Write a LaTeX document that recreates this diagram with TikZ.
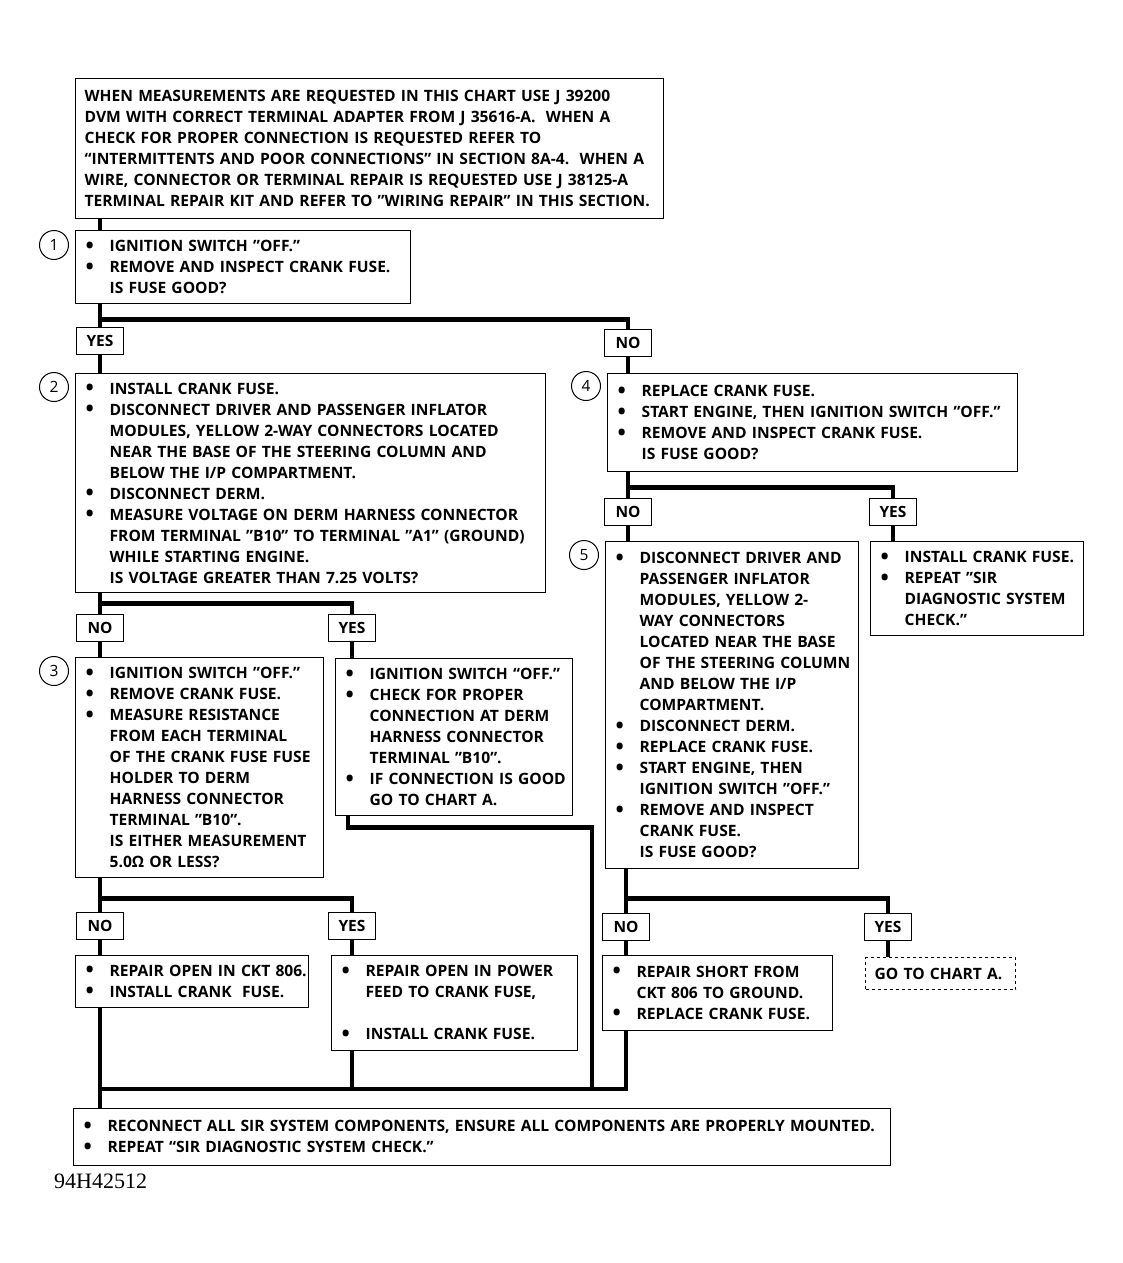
\documentclass[tikz,border=0pt]{standalone}
\usepackage{fontspec}
\setmainfont{Open Sans}
\newfontfamily\figfont{Liberation Serif}
\usetikzlibrary{positioning}

% one printed line each: bullet line, indented line, plain line
\newcommand{\bi}[1]{\mbox{\makebox[25pt][l]{\hspace{1pt}\raisebox{-1.5pt}{\fontsize{22}{0}\selectfont\textbullet}}#1}}
\newcommand{\ci}[1]{\mbox{\hspace*{25pt}#1}}
\newcommand{\pl}[1]{\mbox{#1}}

\begin{document}
\begin{tikzpicture}[
        x=1pt, y=-1pt,
        box/.style={draw, line width=1.3pt, anchor=north west, align=left, inner xsep=9pt, inner ysep=0pt,
            font=\fontsize{15.6}{21}\selectfont\bfseries},
        tag/.style={draw, line width=1.3pt, fill=white, minimum width=47pt, minimum height=27pt, inner sep=0pt,
            font=\fontsize{15.5}{15.5}\selectfont\bfseries},
        num/.style={draw, circle, line width=1pt, minimum size=29pt, inner sep=0pt, font=\fontsize{15.5}{15.5}\selectfont},
        wire/.style={line width=4.8pt}
    ]
    \useasboundingbox (0,0) rectangle (1122,1263);

    % Top: instructions
    \node[box, text width=570pt, minimum height=140pt] (intro) at (75,78) {\pl{WHEN MEASUREMENTS ARE REQUESTED IN THIS CHART USE J 39200}\\ \pl{DVM WITH CORRECT TERMINAL ADAPTER FROM J 35616-A.\ \ WHEN A}\\ \pl{CHECK FOR PROPER CONNECTION IS REQUESTED REFER TO}\\ \pl{“INTERMITTENTS AND POOR CONNECTIONS” IN SECTION 8A-4.\ \ WHEN A}\\ \pl{WIRE, CONNECTOR OR TERMINAL REPAIR IS REQUESTED USE J 38125-A}\\ \pl{TERMINAL REPAIR KIT AND REFER TO ”WIRING REPAIR” IN THIS SECTION.}};

    % Step 1
    \node[box, text width=317pt, minimum height=73pt] (b1) at (75,230) {\bi{IGNITION SWITCH ”OFF.”}\\ \bi{REMOVE AND INSPECT CRANK FUSE.}\\ \ci{IS FUSE GOOD?}};
    \node[num, left=6pt of b1.north west, yshift=-15pt] (n1) {1};
    \node[tag] (yes1) at (100,341) {YES};
    \node[tag] (no1) at (628,343) {NO};

    % Left branch: step 2
    \node[box, text width=452pt, minimum height=219pt] (b2) at (75,373) {\bi{INSTALL CRANK FUSE.}\\ \bi{DISCONNECT DRIVER AND PASSENGER INFLATOR}\\ \ci{MODULES, YELLOW 2-WAY CONNECTORS LOCATED}\\ \ci{NEAR THE BASE OF THE STEERING COLUMN AND}\\ \ci{BELOW THE I/P COMPARTMENT.}\\ \bi{DISCONNECT DERM.}\\ \bi{MEASURE VOLTAGE ON DERM HARNESS CONNECTOR}\\ \ci{FROM TERMINAL ”B10” TO TERMINAL ”A1” (GROUND)}\\ \ci{WHILE STARTING ENGINE.}\\ \ci{IS VOLTAGE GREATER THAN 7.25 VOLTS?}};
    \node[num, left=6pt of b2.north west, yshift=-14pt] (n2) {2};
    \node[tag] (no2) at (100,628) {NO};
    \node[tag] (yes2) at (352,628) {YES};

    % Step 3 and its results
    \node[box, text width=230pt, minimum height=220pt] (b3) at (75,657) {\bi{IGNITION SWITCH ”OFF.”}\\ \bi{REMOVE CRANK FUSE.}\\ \bi{MEASURE RESISTANCE}\\ \ci{FROM EACH TERMINAL}\\ \ci{OF THE CRANK FUSE FUSE}\\ \ci{HOLDER TO DERM}\\ \ci{HARNESS CONNECTOR}\\ \ci{TERMINAL ”B10”.}\\ \ci{IS EITHER MEASUREMENT}\\ \ci{5.0Ω OR LESS?}};
    \node[num, left=6pt of b3.north west, yshift=-14pt] (n3) {3};
    \node[box, text width=219pt, minimum height=157pt] (b2y) at (335,658) {\bi{IGNITION SWITCH “OFF.”}\\ \bi{CHECK FOR PROPER}\\ \ci{CONNECTION AT DERM}\\ \ci{HARNESS CONNECTOR}\\ \ci{TERMINAL ”B10”.}\\ \bi{IF CONNECTION IS GOOD}\\ \ci{GO TO CHART A.}};
    \node[tag] (no3) at (100,926) {NO};
    \node[tag] (yes3) at (352,926) {YES};
    \node[box, text width=215pt, minimum height=52pt] (b3n) at (75,955) {\bi{REPAIR OPEN IN CKT 806.}\\ \bi{INSTALL CRANK\ \ FUSE.}};
    \node[box, text width=228pt, minimum height=95pt] (b3y) at (331,955) {\bi{REPAIR OPEN IN POWER}\\ \ci{FEED TO CRANK FUSE,}\\[21pt] \bi{INSTALL CRANK FUSE.}};

    % Right branch: step 4
    \node[box, text width=392pt, minimum height=98pt] (b4) at (607,373) {\bi{REPLACE CRANK FUSE.}\\ \bi{START ENGINE, THEN IGNITION SWITCH ”OFF.”}\\ \bi{REMOVE AND INSPECT CRANK FUSE.}\\ \ci{IS FUSE GOOD?}};
    \node[num, left=6pt of b4.north west, yshift=-13pt] (n4) {4};
    \node[tag] (no4) at (628,512) {NO};
    \node[tag] (yes4) at (893,512) {YES};

    % Step 5 and its results
    \node[box, text width=235pt, minimum height=327pt] (b5) at (605,541) {\bi{DISCONNECT DRIVER AND}\\ \ci{PASSENGER INFLATOR}\\ \ci{MODULES, YELLOW 2-}\\ \ci{WAY CONNECTORS}\\ \ci{LOCATED NEAR THE BASE}\\ \ci{OF THE STEERING COLUMN}\\ \ci{AND BELOW THE I/P}\\ \ci{COMPARTMENT.}\\ \bi{DISCONNECT DERM.}\\ \bi{REPLACE CRANK FUSE.}\\ \bi{START ENGINE, THEN}\\ \ci{IGNITION SWITCH ”OFF.”}\\ \bi{REMOVE AND INSPECT}\\ \ci{CRANK FUSE.}\\ \ci{IS FUSE GOOD?}};
    \node[num, left=6pt of b5.north west, yshift=-14pt] (n5) {5};
    \node[box, text width=195pt, minimum height=94pt] (b4y) at (870,541) {\bi{INSTALL CRANK FUSE.}\\ \bi{REPEAT ”SIR}\\ \ci{DIAGNOSTIC SYSTEM}\\ \ci{CHECK.”}};
    \node[tag] (no5) at (626,927) {NO};
    \node[tag] (yes5) at (888,927) {YES};
    \node[box, text width=212pt, minimum height=75pt] (b5n) at (602,955) {\bi{REPAIR SHORT FROM}\\ \ci{CKT 806 TO GROUND.}\\ \bi{REPLACE CRANK FUSE.}};
    \node[box, dashed, text width=132pt, minimum height=32pt] (b5y) at (865,957) {\pl{GO TO CHART A.}};

    % Bottom: final step
    \node[box, text width=799pt, minimum height=57pt] (fin) at (73,1108) {\bi{RECONNECT ALL SIR SYSTEM COMPONENTS, ENSURE ALL COMPONENTS ARE PROPERLY MOUNTED.}\\ \bi{REPEAT “SIR DIAGNOSTIC SYSTEM CHECK.”}};
    \node[anchor=west, inner sep=0pt, font=\figfont\fontsize{22}{22}\selectfont] (figno) at (54,1181) {94H42512};
    \coordinate (drop) at (592,1089);

    % Wires
    \draw[wire] (intro.south -| yes1) -- (b1.north -| yes1);
    \draw[wire] (b1.south -| yes1) -- (yes1.north) (b1.south -| yes1) -- ++(0,15) -| (no1.north);
    \draw[wire] (yes1.south) -- (b2.north -| yes1);
    \draw[wire] (no1.south) -- (b4.north -| no1);

    \draw[wire] (b2.south -| no2) -- (no2.north) (b2.south -| no2) -- ++(0,10) -| (yes2.north);
    \draw[wire] (no2.south) -- (b3.north -| no2);
    \draw[wire] (yes2.south) -- (b2y.north -| yes2);

    \draw[wire] (b3.south -| no3) -- (no3.north) (b3.south -| no3) -- ++(0,20) -| (yes3.north);
    \draw[wire] (no3.south) -- (b3n.north -| no3);
    \draw[wire] (yes3.south) -- (b3y.north -| yes3);

    \draw[wire] (b4.south -| no4) -- (no4.north) (b4.south -| no4) -- ++(0,15) -| (yes4.north);
    \draw[wire] (no4.south) -- (b5.north -| no4);
    \draw[wire] (yes4.south) -- (b4y.north -| yes4);

    \draw[wire] (b5.south -| no5) -- (no5.north) (b5.south -| no5) -- ++(0,29) -| (yes5.north);
    \draw[wire] (no5.south) -- (b5n.north -| no5);
    \draw[wire] (yes5.south) -- (b5y.north -| yes5);

    % Into the last box
    \draw[wire] (b3n.south -| no3) -- (fin.north -| no3);
    \draw[wire] (b3y.south -| yes3) -- ([yshift=19pt]fin.north -| yes3);
    \draw[wire] ([xshift=13pt]b2y.south west) -- ++(0,11) -| (drop);
    \draw[wire] (b5n.south -| no5) |- ([yshift=19pt]fin.north -| no3);

\end{tikzpicture}
\end{document}
